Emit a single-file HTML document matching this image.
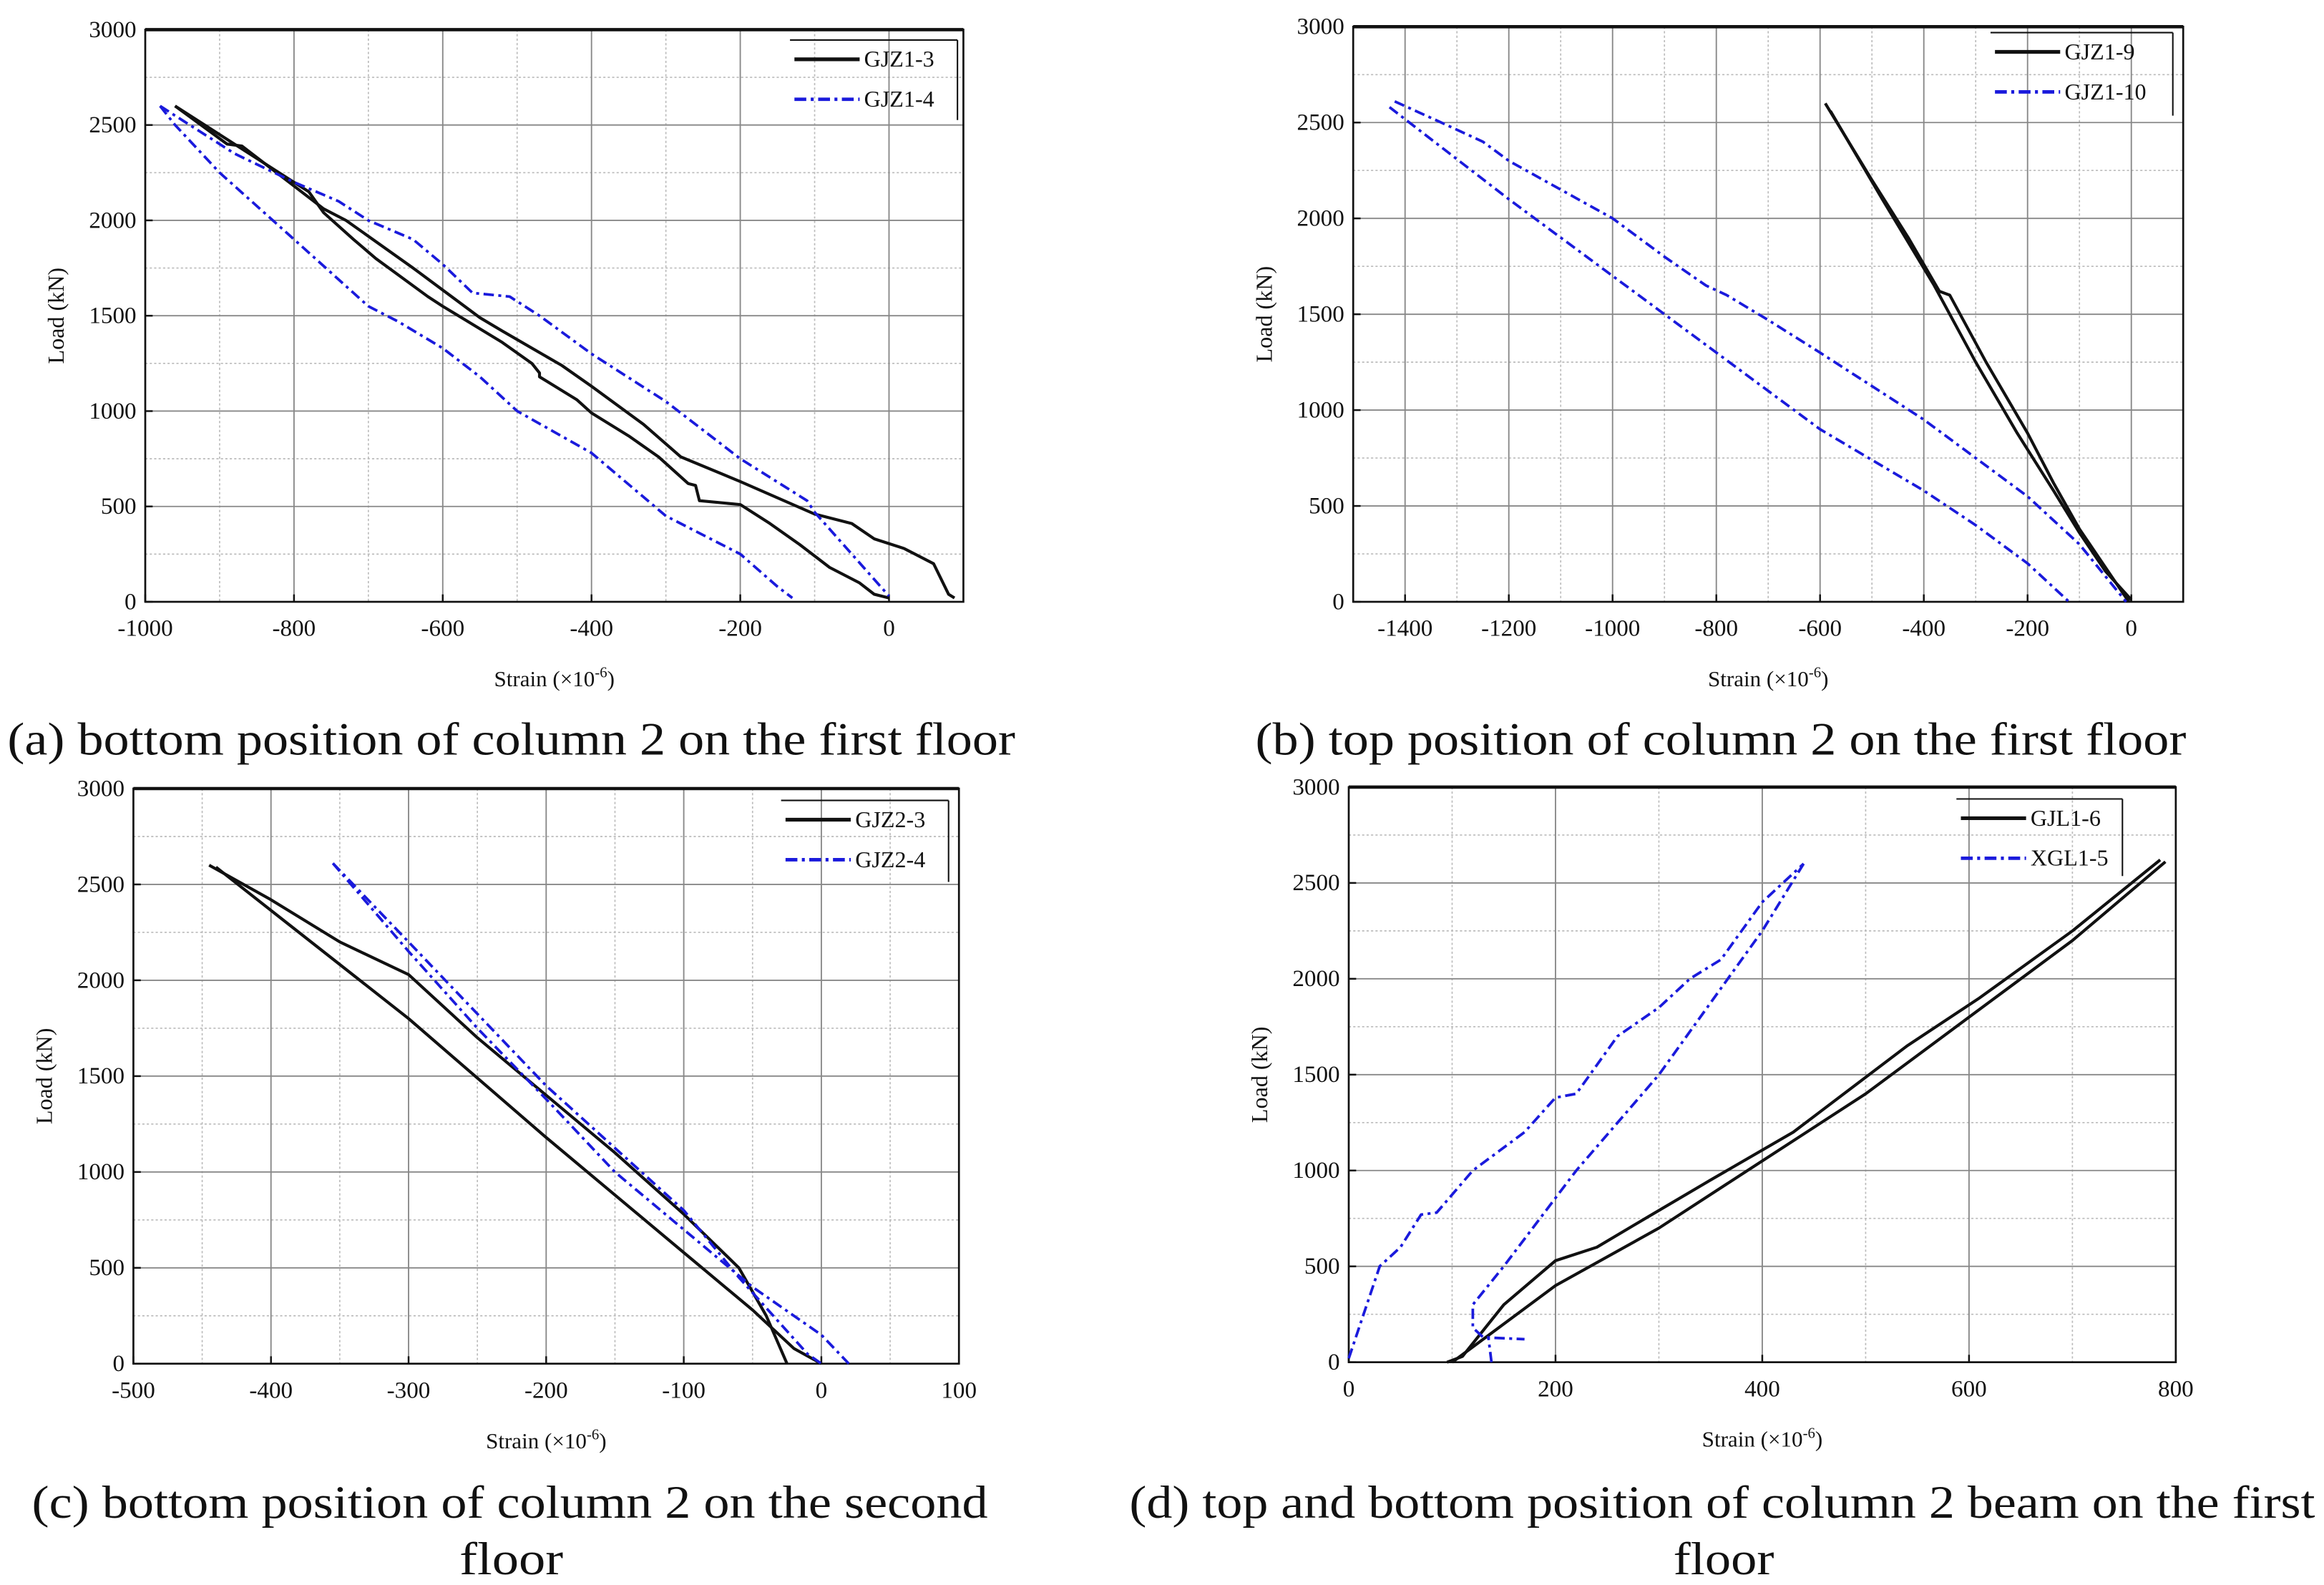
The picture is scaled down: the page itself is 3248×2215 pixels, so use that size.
<!DOCTYPE html>
<html><head><meta charset="utf-8"><style>
html,body{margin:0;padding:0;background:#fff;}
svg{display:block;}
text{font-family:"Liberation Serif",serif;fill:#111;}
</style></head><body>
<svg id="s" width="3248" height="2215" viewBox="0 0 1568 1069.3" xmlns="http://www.w3.org/2000/svg"></svg>
<script>
const S=document.getElementById('s');let h='';
function panel(p){
 const {x0,x1,y0,y1,xmin,xmax,xt,minx,series,leg}=p;
 const X=v=>x0+(v-xmin)/(xmax-xmin)*(x1-x0), Y=v=>y1-(v/3000)*(y1-y0);
 for(const v of minx)h+=`<line x1="${X(v)}" y1="${y0}" x2="${X(v)}" y2="${y1}" stroke="#bbb" stroke-width="0.8" stroke-dasharray="1.5,1.5"/>`;
 for(const v of [250,750,1250,1750,2250,2750])h+=`<line x1="${x0}" y1="${Y(v)}" x2="${x1}" y2="${Y(v)}" stroke="#bbb" stroke-width="0.8" stroke-dasharray="1.5,1.5"/>`;
 for(const v of xt)h+=`<line x1="${X(v)}" y1="${y0}" x2="${X(v)}" y2="${y1}" stroke="#888" stroke-width="0.9"/>`;
 for(let v=500;v<3000;v+=500)h+=`<line x1="${x0}" y1="${Y(v)}" x2="${x1}" y2="${Y(v)}" stroke="#888" stroke-width="0.9"/>`;
 h+=`<rect x="${x0}" y="${y0}" width="${x1-x0}" height="${y1-y0}" fill="none" stroke="#111" stroke-width="1.3"/>`;
 h+=`<line x1="${x0}" y1="${y0}" x2="${x1}" y2="${y0}" stroke="#111" stroke-width="2.2"/>`;
 for(const v of xt){h+=`<line x1="${X(v)}" y1="${y1}" x2="${X(v)}" y2="${y1-5}" stroke="#111" stroke-width="1.2"/><text x="${X(v)}" y="${y1+23}" font-size="16" text-anchor="middle">${v}</text>`;}
 for(let v=0;v<=3000;v+=500){h+=`<line x1="${x0}" y1="${Y(v)}" x2="${x0+5}" y2="${Y(v)}" stroke="#111" stroke-width="1.2"/><text x="${x0-6}" y="${Y(v)+5}" font-size="16" text-anchor="end">${v}</text>`;}
 h+=`<text x="${(x0+x1)/2}" y="${y1+57}" font-size="15" text-anchor="middle">Strain (×10<tspan dy="-6" font-size="10">-6</tspan><tspan dy="6">)</tspan></text>`;
 h+=`<text transform="translate(${x0-55},${(y0+y1)/2}) rotate(-90)" font-size="15.5" text-anchor="middle">Load (kN)</text>`;
 for(const s of series){for(const d of s.d){h+=`<polyline fill="none" stroke="${s.c}" stroke-width="${s.c=='#111'?2:1.8}" ${s.dash?'stroke-dasharray="7,3,2,3"':''} stroke-linejoin="round" points="${d.map(q=>X(q[0]).toFixed(1)+','+Y(q[1]).toFixed(1)).join(' ')}"/>`;}}
 const [lx,ly,lx2,ly2,names]=leg;
 h+=`<line x1="${lx}" y1="${ly}" x2="${lx2}" y2="${ly}" stroke="#111" stroke-width="1"/><line x1="${lx2}" y1="${ly}" x2="${lx2}" y2="${ly2}" stroke="#111" stroke-width="1"/>`;
 h+=`<line x1="${lx+3}" y1="${ly+13}" x2="${lx+47}" y2="${ly+13}" stroke="#111" stroke-width="2.5"/><text x="${lx+50}" y="${ly+18}" font-size="15.5">${names[0]}</text>`;
 h+=`<line x1="${lx+3}" y1="${ly+40}" x2="${lx+47}" y2="${ly+40}" stroke="#1a1adc" stroke-width="2.3" stroke-dasharray="8,3,2,3"/><text x="${lx+50}" y="${ly+45}" font-size="15.5">${names[1]}</text>`;
}
const K='#111',B='#1a1adc';
panel({x0:98,x1:650,y0:20,y1:406,xmin:-1000,xmax:100,xt:[-1000,-800,-600,-400,-200,0],minx:[-900,-700,-500,-300,-100],
 leg:[533,27,646,81,['GJZ1-3','GJZ1-4']],
 series:[{c:K,d:[[[88,20],[80,40],[60,200],[20,280],[-20,330],[-50,410],[-100,460],[-200,630],[-280,760],[-330,930],[-400,1130],[-440,1240],[-480,1330],[-520,1420],[-550,1490],[-640,1750],[-730,2000],[-760,2060],[-800,2180],[-870,2390],[-890,2400],[-960,2600]],
  [[-960,2600],[-880,2400],[-780,2150],[-760,2040],[-720,1900],[-690,1800],[-620,1600],[-600,1550],[-520,1360],[-480,1250],[-470,1200],[-470,1180],[-420,1060],[-400,990],[-350,870],[-310,760],[-270,620],[-260,610],[-255,530],[-200,510],[-160,410],[-120,300],[-80,180],[-40,100],[-20,40],[0,20]]]},
 {c:B,dash:1,d:[[[-980,2600],[-960,2500],[-900,2250],[-800,1900],[-700,1550],[-660,1470],[-600,1330],[-550,1180],[-500,1000],[-400,780],[-300,450],[-200,250],[-150,80],[-130,20]],
  [[-980,2600],[-880,2350],[-800,2200],[-740,2100],[-700,2000],[-640,1900],[-600,1770],[-560,1620],[-510,1600],[-470,1500],[-400,1300],[-300,1050],[-200,750],[-110,530],[-100,470],[-50,250],[0,30]]]}]});
panel({x0:913,x1:1473,y0:18,y1:406,xmin:-1500,xmax:100,xt:[-1400,-1200,-1000,-800,-600,-400,-200,0],minx:[-1300,-1100,-900,-700,-500,-300,-100],
 leg:[1343,22,1466,78,['GJZ1-9','GJZ1-10']],
 series:[{c:K,d:[[[-590,2600],[-500,2200],[-430,1900],[-370,1620],[-350,1600],[-280,1250],[-200,880],[-150,620],[-100,380],[-50,180],[-5,0]],
  [[-580,2560],[-480,2100],[-380,1650],[-300,1250],[-220,880],[-150,580],[-100,360],[-50,160],[0,10]]]},
 {c:B,dash:1,d:[[[-1420,2610],[-1330,2500],[-1250,2400],[-1200,2300],[-1000,2000],[-900,1800],[-820,1650],[-780,1600],[-700,1470],[-600,1300],[-400,950],[-300,750],[-200,550],[-100,300],[-10,0]],
  [[-1430,2580],[-1200,2100],[-900,1500],[-600,900],[-400,580],[-300,400],[-200,200],[-120,0]]]}]});
panel({x0:90,x1:647,y0:532,y1:920,xmin:-500,xmax:100,xt:[-500,-400,-300,-200,-100,0,100],minx:[-450,-350,-250,-150,-50,50],
 leg:[527,540,640,595,['GJZ2-3','GJZ2-4']],
 series:[{c:K,d:[[[-445,2600],[-400,2420],[-350,2200],[-300,2030],[-250,1700],[-200,1400],[-150,1100],[-100,780],[-60,500],[-40,250],[-25,0]],
  [[-440,2590],[-300,1800],[-200,1180],[-100,580],[-50,280],[-20,80],[0,0]]]},
 {c:B,dash:1,d:[[[-355,2610],[-300,2150],[-250,1750],[-200,1380],[-150,1000],[-100,700],[-50,400],[0,150],[20,0]],
  [[-355,2610],[-300,2200],[-200,1450],[-100,800],[-60,450],[-10,50],[0,0]]]}]});
panel({x0:910,x1:1468,y0:531,y1:919,xmin:0,xmax:800,xt:[0,200,400,600,800],minx:[100,300,500,700],
 leg:[1320,539,1432,591,['GJL1-6','XGL1-5']],
 series:[{c:K,d:[[[95,0],[110,30],[150,300],[200,530],[240,600],[290,760],[350,950],[430,1200],[540,1650],[610,1900],[700,2250],[785,2620]],
  [[100,0],[200,400],[300,700],[400,1050],[500,1400],[600,1800],[700,2200],[790,2610]]]},
 {c:B,dash:1,d:[[[0,20],[30,500],[50,600],[70,770],[85,780],[120,1000],[170,1200],[200,1380],[220,1400],[260,1700],[300,1850],[330,2000],[360,2100],[400,2400],[440,2600]],
  [[440,2600],[400,2250],[300,1500],[220,1000],[150,500],[120,300],[120,180],[130,130],[170,120]],[[138,0],[135,130]]]}]});
const cap=(x,y,t,w)=>h+=`<text x="${x}" y="${y}" font-size="31" text-anchor="middle" textLength="${w}" lengthAdjust="spacingAndGlyphs">${t}</text>`;
cap(345,509,'(a) bottom position of column 2 on the first floor',680);
cap(1161,509,'(b) top position of column 2 on the first floor',628);
cap(344,1024,'(c) bottom position of column 2 on the second',645);
cap(345,1062,'floor',70);
cap(1162,1024,'(d) top and bottom position of column 2 beam on the first',800);
cap(1163,1062,'floor',68);
S.innerHTML=h;
</script>
</body></html>
